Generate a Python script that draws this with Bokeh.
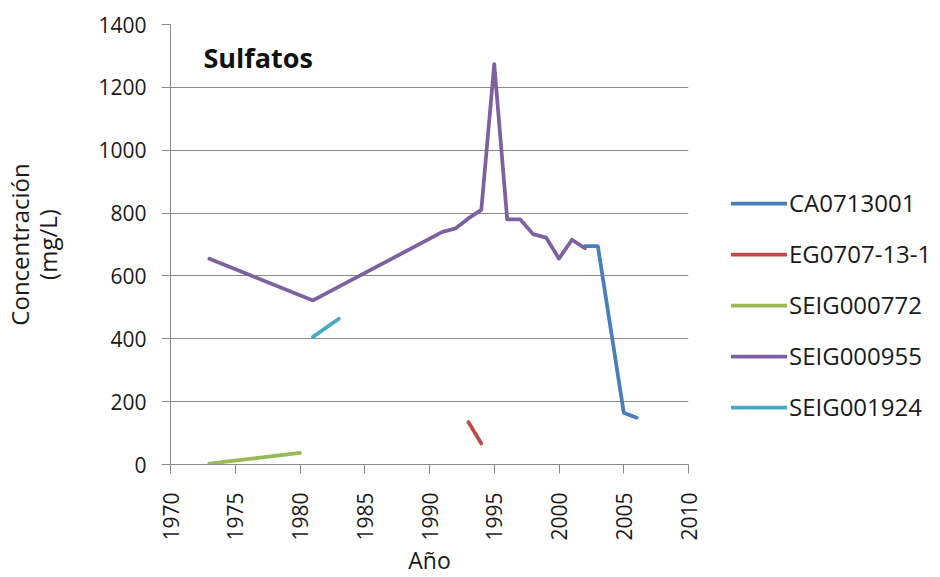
import math
from bokeh.plotting import figure
from bokeh.layouts import row
from bokeh.models import Legend, LegendItem, Label, FixedTicker, Range1d
from bokeh.embed import file_html
from bokeh.resources import INLINE

# ---- data ----
x_ticks = [1970, 1975, 1980, 1985, 1990, 1995, 2000, 2005, 2010]
y_ticks = [0, 200, 400, 600, 800, 1000, 1200, 1400]

ca_years = [2002, 2003, 2005, 2006]
ca_vals = [695, 695, 165, 149]

eg_years = [1993, 1994]
eg_vals = [135, 67]

s772_years = [1973, 1980]
s772_vals = [3, 37]

s955_years = [1973, 1981, 1991, 1992, 1993, 1994, 1995, 1996, 1997, 1998, 1999, 2000, 2001, 2002]
s955_vals = [655, 522, 740, 751, 783, 810, 1274, 780, 780, 733, 722, 655, 715, 688]

s1924_years = [1981, 1983]
s1924_vals = [406, 464]

series_names = ["CA0713001", "EG0707-13-1", "SEIG000772", "SEIG000955", "SEIG001924"]
series_colors = ["#4A7EBB", "#BE4B48", "#98B954", "#7D60A0", "#46AAC5"]

FONT = "Open Sans"
GRID = "#8A8A8A"
TXT = "#1A1A1A"

all_x = [ca_years, eg_years, s772_years, s955_years, s1924_years]
all_y = [ca_vals, eg_vals, s772_vals, s955_vals, s1924_vals]

# ---- main chart ----
p = figure(frame_width=518, frame_height=440, output_backend="svg", toolbar_location=None,
           x_range=Range1d(1970, 2010), y_range=Range1d(0, 1400),
           min_border_left=164, min_border_right=16, min_border_top=24, min_border_bottom=108)
p.outline_line_color = None
p.background_fill_color = "white"
p.border_fill_color = "white"

p.xgrid.visible = False
p.ygrid.grid_line_color = GRID
p.ygrid.grid_line_width = 1

p.xaxis.ticker = FixedTicker(ticks=x_ticks)
p.yaxis.ticker = FixedTicker(ticks=y_ticks)
for ax in (p.xaxis, p.yaxis):
    ax.axis_line_color = GRID
    ax.major_tick_line_color = GRID
    ax.major_tick_out = 9
    ax.major_tick_in = 0
    ax.minor_tick_line_color = None
    ax.major_label_text_font = FONT
    ax.major_label_text_font_size = "21px"
    ax.major_label_text_color = TXT
    ax.axis_label_text_font = FONT
    ax.axis_label_text_font_style = "normal"
    ax.axis_label_text_color = TXT

p.xaxis.major_label_orientation = math.pi / 2
p.xaxis.major_label_standoff = 19
p.xaxis.axis_label = "Año"
p.xaxis.axis_label_text_font_size = "23px"
p.xaxis.axis_label_standoff = 0

p.yaxis.major_label_standoff = 15
p.yaxis.axis_label = "Concentración\n(mg/L)"
p.yaxis.axis_label_text_font_size = "24px"
p.yaxis.axis_label_text_line_height = 0.85
p.yaxis.axis_label_standoff = 31

renderers = []
for xs, ys, c in zip(all_x, all_y, series_colors):
    r = p.line(xs, ys, line_color=c, line_width=3.75, line_cap="round", line_join="round")
    renderers.append(r)

title = Label(x=33, y=407, x_units="screen", y_units="screen", text="Sulfatos",
              text_font=FONT, text_font_size="27px", text_font_style="bold",
              text_color="#111111", text_baseline="alphabetic")
p.add_layout(title)

# ---- legend panel (same series, drawn outside its visible range) ----
lg = figure(width=226, height=572, output_backend="svg", toolbar_location=None,
            x_range=Range1d(0, 1), y_range=Range1d(0, 1),
            x_axis_location=None, y_axis_location=None,
            min_border=0)
lg.outline_line_color = None
lg.xgrid.visible = False
lg.ygrid.visible = False
lg_renderers = []
for xs, ys, c in zip(all_x, all_y, series_colors):
    r = lg.line(xs, ys, line_color=c, line_width=3.75, line_cap="round")
    lg_renderers.append(r)

items = [LegendItem(label=n, renderers=[r]) for n, r in zip(series_names, lg_renderers)]
legend = Legend(items=items, location=(27, 35), glyph_width=56, glyph_height=24,
                label_height=24, spacing=18, label_standoff=2, padding=0, margin=0,
                border_line_color=None, background_fill_alpha=0,
                label_text_font=FONT, label_text_font_size="24px", label_text_color=TXT)
lg.add_layout(legend, "center")

layout = row(p, lg)
open("out.html", "w").write(file_html(layout, INLINE))
